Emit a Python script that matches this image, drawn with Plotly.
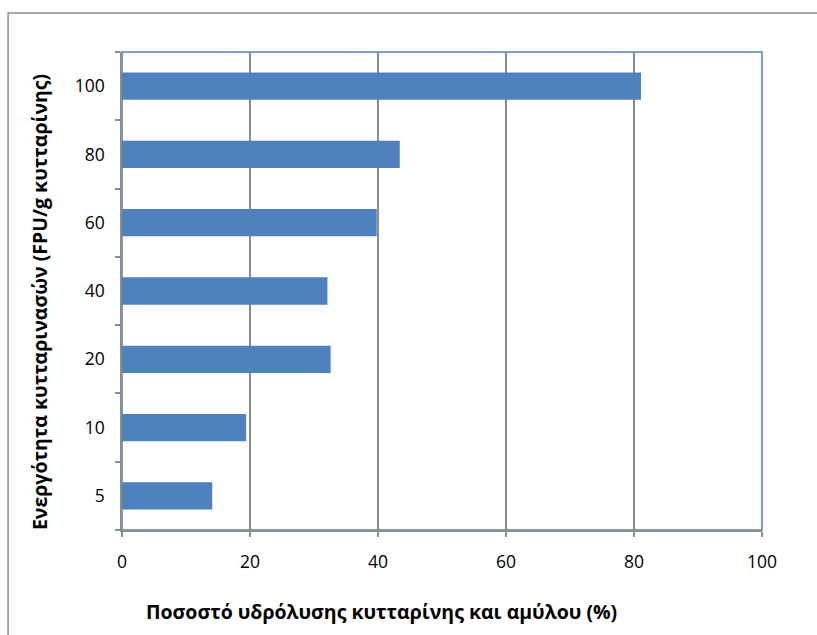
import plotly.graph_objects as go

# Cellulase activity levels (FPU/g cellulose) and hydrolysis yield (%)
activity = ["5", "10", "20", "40", "60", "80", "100"]
hydrolysis = [14.1, 19.4, 32.6, 32.1, 39.8, 43.4, 81.1]

x_ticks = [0, 20, 40, 60, 80, 100]

x_title = "Ποσοστό υδρόλυσης κυτταρίνης και αμύλου (%)"
y_title = "Ενεργότητα κυτταρινασών (FPU/g κυτταρίνης)"

bar_color = "#4F81BD"
grid_color = "#8C8C8C"
font_family = "Open Sans, Noto Sans, DejaVu Sans, sans-serif"

fig = go.Figure(
    go.Bar(
        x=hydrolysis,
        y=activity,
        orientation="h",
        width=0.4,
        marker=dict(color=bar_color, line=dict(width=0)),
    )
)

fig.update_layout(
    width=817,
    height=635,
    margin=dict(l=122, r=55, t=52, b=105),
    paper_bgcolor="white",
    plot_bgcolor="white",
    showlegend=False,
    font=dict(family=font_family, size=18, color="#000000"),
    xaxis=dict(
        range=[0, 100],
        tickvals=x_ticks,
        ticktext=[str(v) for v in x_ticks],
        showgrid=True,
        gridcolor=grid_color,
        gridwidth=1.5,
        showline=True,
        linecolor=grid_color,
        linewidth=1.5,
        ticks="outside",
        ticklen=5,
        tickcolor=grid_color,
        tickwidth=1.5,
        ticklabelstandoff=10,
        zeroline=False,
        tickfont=dict(size=17.5),
    ),
    yaxis=dict(
        type="category",
        categoryorder="array",
        categoryarray=activity,
        showgrid=False,
        showline=True,
        linecolor=grid_color,
        linewidth=1.5,
        ticks="outside",
        tickson="boundaries",
        ticklen=5,
        tickcolor=grid_color,
        tickwidth=1.5,
        ticklabelstandoff=12,
        tickfont=dict(size=17.5),
    ),
    annotations=[
        # axis titles, centred on the chart frame
        dict(
            text=f"<b>{x_title}</b>", xref="paper", yref="paper",
            x=0.406, y=-0.1715, xanchor="center", yanchor="middle",
            showarrow=False, font=dict(size=19.5),
        ),
        dict(
            text=f"<b>{y_title}</b>", xref="paper", yref="paper",
            x=-0.128, y=0.477, xanchor="center", yanchor="middle",
            textangle=-90, showarrow=False, font=dict(size=19.5),
        ),
    ],
    shapes=[
        # plot area frame
        dict(
            type="rect", xref="paper", yref="paper",
            x0=0, x1=1, y0=0, y1=1,
            line=dict(color=bar_color, width=1.5),
            layer="below",
        ),
        # outer chart frame
        dict(
            type="rect", xref="paper", yref="paper",
            x0=-0.178, x1=1.5, y0=-0.5, y1=1.0816,
            line=dict(color="#8C8C8C", width=1.5),
        ),
    ],
)

fig.write_html("out.html")
